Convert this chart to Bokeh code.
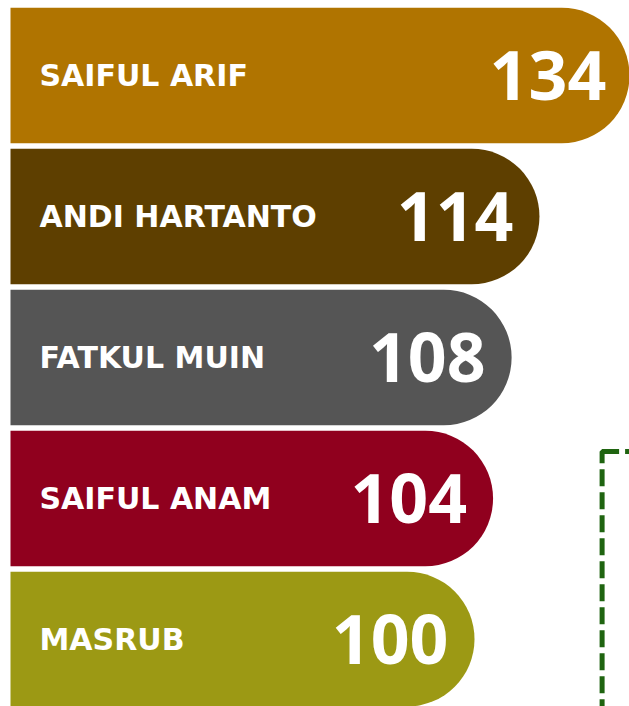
from bokeh.plotting import figure
from bokeh.models import ColumnDataSource, Range1d, BoxAnnotation
from bokeh.core.properties import value
from bokeh.embed import file_html
from bokeh.resources import INLINE

names = ["SAIFUL ARIF", "ANDI HARTANTO", "FATKUL MUIN", "SAIFUL ANAM", "MASRUB"]
counts = [134, 114, 108, 104, 100]
colors = ["#B07400", "#5E3F00", "#555555", "#90001E", "#9C9914"]
rank = [0, 1, 2, 3, 4]

src = ColumnDataSource(dict(
    y=rank, v=counts, name=names, color=colors,
    num=[str(c) for c in counts], zero=[0] * len(counts),
))

p = figure(width=629, height=706, output_backend="svg", toolbar_location=None,
           x_range=Range1d(-2.155, 133.405), y_range=Range1d(4.475, -0.532),
           min_border=0, outline_line_color=None, background_fill_color="white")
p.axis.visible = False
p.grid.visible = False

p.hbar(y="y", left=0, right="v", height=0.961, fill_color="color",
       line_color=None, border_radius=(0, 68, 68, 0), source=src)

p.text(x="zero", y="y", text="name", x_offset=29, text_align="left",
       text_baseline="middle", text_color="white",
       text_font=value("DejaVu Sans"), text_font_style="bold",
       text_font_size="30px", source=src)

p.text(x="v", y="y", text="num", x_offset=-26, text_align="right",
       text_baseline="middle", text_color="white",
       text_font=value("Open Sans"), text_font_style="bold",
       text_font_size="68px", source=src)

box = BoxAnnotation(left=127.5, right=300, top=2.667, bottom=10,
                    fill_alpha=0, line_color="#1F6410", line_alpha=1.0,
                    line_width=5, line_dash="17 6")
p.add_layout(box)

open("out.html", "w").write(file_html(p, INLINE))
